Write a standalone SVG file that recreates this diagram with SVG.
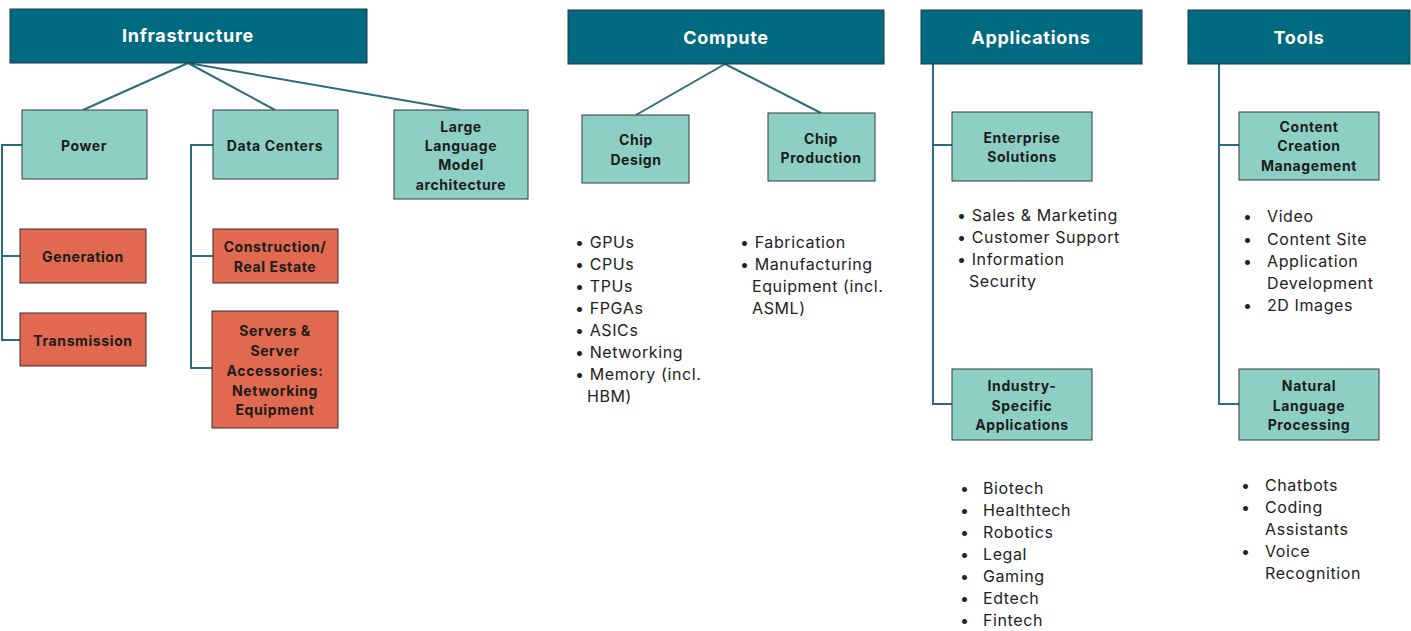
<svg xmlns="http://www.w3.org/2000/svg" width="1411" height="631" viewBox="0 0 1411 631">
  <style>
    .head rect { fill: #006a80; stroke: #1f3a44; stroke-width: 1; }
    .head text { fill: #ffffff; font-family: Inter, "Noto Sans", sans-serif; font-weight: 700; font-size: 18px; letter-spacing: 0.7px; text-anchor: middle; }
    .sub rect { fill: #8dcfc4; stroke: #2f3d40; stroke-width: 1; }
    .leaf rect { fill: #e0694f; stroke: #3a2a26; stroke-width: 1; }
    .sub text, .leaf text { fill: #1c1c1c; font-family: Inter, "Noto Sans", sans-serif; font-weight: 700; font-size: 14px; letter-spacing: 0.6px; text-anchor: middle; }
    .links path { fill: none; stroke: #2c6b80; stroke-width: 2; }
    .list text { fill: #222222; font-family: Inter, "Noto Sans", sans-serif; font-size: 16px; letter-spacing: 0.6px; }
  </style>
  <rect width="1411" height="631" fill="#ffffff"/>

  <!-- connectors -->
  <g class="links">
    <path d="M188 63 L83 110 M188 63 L275 110 M188 63 L460 110"/>
    <path d="M22 145 H2 V340 H20 M2 256 H20"/>
    <path d="M213 145 H191 V368 H212 M191 256 H213"/>
    <path d="M725 64 L636 115 M725 64 L821 113"/>
    <path d="M933 64 V404 H952 M933 145 H952"/>
    <path d="M1219 64 V404 H1239 M1219 145 H1239"/>
  </g>

  <!-- top-level categories -->
  <g id="infrastructure" class="head"><rect x="10" y="9" width="357" height="54"/><text x="188" y="42">Infrastructure</text></g>
  <g id="compute" class="head"><rect x="568" y="10" width="316" height="54"/><text x="726" y="44">Compute</text></g>
  <g id="applications" class="head"><rect x="921" y="10" width="221" height="54"/><text x="1031" y="44">Applications</text></g>
  <g id="tools" class="head"><rect x="1188" y="10" width="222" height="54"/><text x="1299" y="44">Tools</text></g>

  <!-- infrastructure branch -->
  <g id="power" class="sub"><rect x="22" y="110" width="125" height="69"/><text x="84" y="151">Power</text></g>
  <g id="data-centers" class="sub"><rect x="213" y="110" width="125" height="69"/><text x="275" y="151">Data Centers</text></g>
  <g id="llm" class="sub"><rect x="394" y="110" width="134" height="89"/>
    <text x="461" y="132">Large</text><text x="461" y="151">Language</text><text x="461" y="170">Model</text><text x="461" y="190">architecture</text></g>
  <g id="generation" class="leaf"><rect x="20" y="229" width="126" height="54"/><text x="83" y="262">Generation</text></g>
  <g id="transmission" class="leaf"><rect x="20" y="313" width="126" height="53"/><text x="83" y="346">Transmission</text></g>
  <g id="construction" class="leaf"><rect x="213" y="229" width="125" height="54"/>
    <text x="275" y="252">Construction/</text><text x="275" y="272">Real Estate</text></g>
  <g id="servers" class="leaf"><rect x="212" y="311" width="126" height="117"/>
    <text x="275" y="336">Servers &amp;</text><text x="275" y="356">Server</text><text x="275" y="376">Accessories:</text><text x="275" y="396">Networking</text><text x="275" y="415">Equipment</text></g>

  <!-- compute branch -->
  <g id="chip-design" class="sub"><rect x="582" y="115" width="107" height="68"/>
    <text x="636" y="145">Chip</text><text x="636" y="165">Design</text></g>
  <g id="chip-production" class="sub"><rect x="768" y="113" width="107" height="68"/>
    <text x="821" y="144">Chip</text><text x="821" y="163">Production</text></g>

  <!-- applications branch -->
  <g id="enterprise" class="sub"><rect x="952" y="112" width="140" height="69"/>
    <text x="1022" y="143">Enterprise</text><text x="1022" y="162">Solutions</text></g>
  <g id="industry" class="sub"><rect x="952" y="369" width="140" height="71"/>
    <text x="1022" y="391">Industry-</text><text x="1022" y="411">Specific</text><text x="1022" y="430">Applications</text></g>

  <!-- tools branch -->
  <g id="content-creation" class="sub"><rect x="1239" y="112" width="140" height="68"/>
    <text x="1309" y="132">Content</text><text x="1309" y="151">Creation</text><text x="1309" y="171">Management</text></g>
  <g id="nlp" class="sub"><rect x="1239" y="369" width="140" height="71"/>
    <text x="1309" y="391">Natural</text><text x="1309" y="411">Language</text><text x="1309" y="430">Processing</text></g>

  <!-- bullet lists -->
  <g id="chip-design-items" class="list">
    <text x="575" y="248">• GPUs</text>
    <text x="575" y="270">• CPUs</text>
    <text x="575" y="292">• TPUs</text>
    <text x="575" y="314">• FPGAs</text>
    <text x="575" y="336">• ASICs</text>
    <text x="575" y="358">• Networking</text>
    <text x="575" y="380">• Memory (incl.</text>
    <text x="587" y="402">HBM)</text>
  </g>
  <g id="chip-production-items" class="list">
    <text x="740" y="248">• Fabrication</text>
    <text x="740" y="270">• Manufacturing</text>
    <text x="752" y="292">Equipment (incl.</text>
    <text x="752" y="314">ASML)</text>
  </g>
  <g id="enterprise-items" class="list">
    <text x="957" y="221">• Sales &amp; Marketing</text>
    <text x="957" y="243">• Customer Support</text>
    <text x="957" y="265">• Information</text>
    <text x="969" y="287">Security</text>
  </g>
  <g id="industry-items" class="list">
    <text x="960" y="494">•</text><text x="983" y="494">Biotech</text>
    <text x="960" y="516">•</text><text x="983" y="516">Healthtech</text>
    <text x="960" y="538">•</text><text x="983" y="538">Robotics</text>
    <text x="960" y="560">•</text><text x="983" y="560">Legal</text>
    <text x="960" y="582">•</text><text x="983" y="582">Gaming</text>
    <text x="960" y="604">•</text><text x="983" y="604">Edtech</text>
    <text x="960" y="626">•</text><text x="983" y="626">Fintech</text>
  </g>
  <g id="content-items" class="list">
    <text x="1243" y="222">•</text><text x="1267" y="222">Video</text>
    <text x="1243" y="245">•</text><text x="1267" y="245">Content Site</text>
    <text x="1243" y="267">•</text><text x="1267" y="267">Application</text>
    <text x="1267" y="289">Development</text>
    <text x="1243" y="311">•</text><text x="1267" y="311">2D Images</text>
  </g>
  <g id="nlp-items" class="list">
    <text x="1241" y="491">•</text><text x="1265" y="491">Chatbots</text>
    <text x="1241" y="513">•</text><text x="1265" y="513">Coding</text>
    <text x="1265" y="535">Assistants</text>
    <text x="1241" y="557">•</text><text x="1265" y="557">Voice</text>
    <text x="1265" y="579">Recognition</text>
  </g>
</svg>
